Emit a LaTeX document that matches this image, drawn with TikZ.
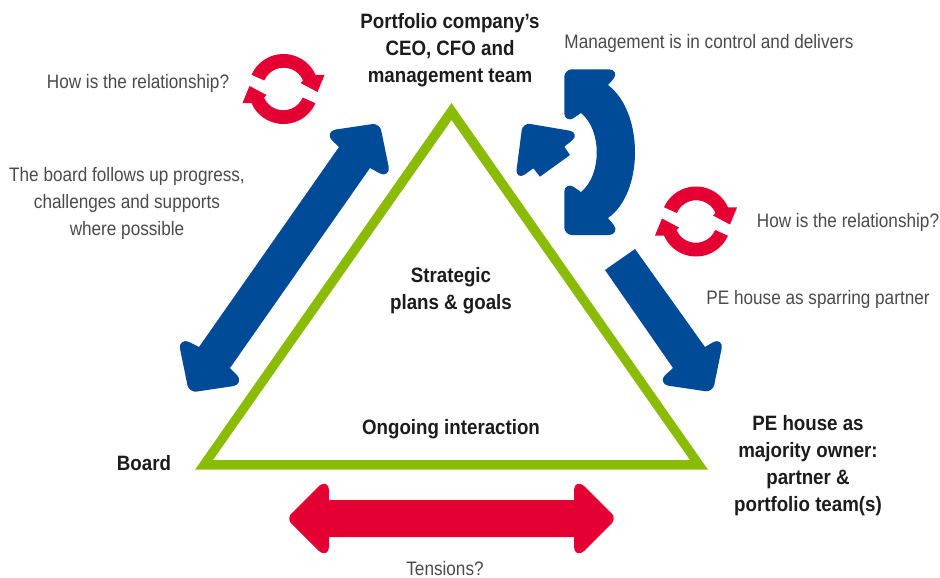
\documentclass[tikz,border=0pt]{standalone}
\usepackage{fontspec}
\usetikzlibrary{calc}
\setmainfont[FakeStretch=0.88,BoldFeatures={FakeStretch=0.90}]{Liberation Sans}
\definecolor{pgreen}{HTML}{8ABB05}
\definecolor{pblue}{HTML}{004B97}
\definecolor{pred}{HTML}{E50033}
\definecolor{ptext}{HTML}{4A4A4A}
\definecolor{pbold}{HTML}{1C1C1C}
\tikzset{
  lighttext/.style={text=ptext,font=\fontsize{19.5}{27}\selectfont,align=center,inner sep=0pt},
  boldtext/.style={text=pbold,font=\fontsize{20.8}{27}\selectfont\bfseries,align=center,inner sep=0pt},
  bluefill/.style={fill=pblue},
  redfill/.style={fill=pred}
}
\newcommand{\rnd}[4]{-- ($#3!#1pt!#2$) .. controls ($#3!#1*0.55pt!#2$) and ($#3!#1*0.55pt!#4$) .. ($#3!#1pt!#4$)}
\newcommand{\cycleicon}[2]{%
  \begin{scope}[shift={(#1,#2)},x=1pt,y=1pt,redfill]
    \foreach \r in {0,180}{
      \fill[rotate=\r] (156:35) arc[start angle=156,end angle=24,radius=35]
        -- (41,14) -- (34,-3) -- (17,6) -- (19.5,8.5)
        arc[start angle=23,end angle=157,radius=21] -- cycle;
    }
  \end{scope}}
\begin{document}
\begin{tikzpicture}[x=1pt,y=-1pt]
\useasboundingbox (0,0) rectangle (940,578);
% triangle
\fill[pgreen,even odd rule] (451.5,103) -- (708,469.7) -- (195,469.7) -- cycle
  (451.5,120) -- (213,460) -- (690,460) -- cycle;
% left double arrow
\fill[bluefill] (339,147)
  \rnd{13}{(339,147)}{(322.5,131.5)}{(379.7,123)}
  \rnd{7}{(322.5,131.5)}{(379.7,123)}{(391.3,179.7)}
  \rnd{13}{(379.7,123)}{(391.3,179.7)}{(370,168)}
  -- (370,168) -- (230,368)
  \rnd{13}{(230,368)}{(246.2,384.2)}{(189,392.7)}
  \rnd{7}{(246.2,384.2)}{(189,392.7)}{(177.4,336)}
  \rnd{13}{(189,392.7)}{(177.4,336)}{(199,347)}
  -- (199,347) -- cycle;
% right arrow
\fill[bluefill] (605,270) -- (635,249) -- (705,347)
  \rnd{13}{(705,347)}{(724.3,335.6)}{(712.7,392.3)}
  \rnd{7}{(724.3,335.6)}{(712.7,392.3)}{(655.5,383.8)}
  \rnd{13}{(712.7,392.3)}{(655.5,383.8)}{(673,368)}
  -- (673,368) -- cycle;
% red double arrow
\fill[redfill] (329,500) -- (574,500) -- (574,498)
  \rnd{14}{(574,498)}{(574,476)}{(616.5,518.5)}
  \rnd{6}{(574,476)}{(616.5,518.5)}{(574,561)}
  \rnd{14}{(616.5,518.5)}{(574,561)}{(574,537)}
  -- (574,537) -- (329,537) -- (329,539)
  \rnd{14}{(329,539)}{(329,561)}{(286.5,518.5)}
  \rnd{6}{(329,561)}{(286.5,518.5)}{(329,476)}
  \rnd{14}{(286.5,518.5)}{(329,476)}{(329,500)}
  -- cycle;
% curved arrow
\fill[bluefill] (608,85) .. controls (644,112) and (644,193) .. (608,218)
  \rnd{13}{(608,218)}{(622,235)}{(564.3,235)}
  \rnd{7}{(622,235)}{(564.3,235)}{(564.3,180.5)}
  \rnd{11}{(564.3,235)}{(564.3,180.5)}{(581,192)}
  -- (581,192)
  .. controls (602,175) and (602,130) .. (581,113)
  \rnd{11}{(581,113)}{(564.3,124.5)}{(564.3,69.3)}
  \rnd{7}{(564.3,124.5)}{(564.3,69.3)}{(622,69.3)}
  \rnd{13}{(564.3,69.3)}{(622,69.3)}{(608,85)}
  -- cycle;
% small arrow head
\fill[bluefill] (564.3,146.7)
  \rnd{12}{(564.3,146.7)}{(581.7,132.7)}{(522.7,122.7)}
  \rnd{7}{(581.7,132.7)}{(522.7,122.7)}{(515,181.7)}
  \rnd{12}{(522.7,122.7)}{(515,181.7)}{(533.3,168.3)}
  -- (533.3,168.3) -- (540,176.7) -- (570,155) -- cycle;
\cycleicon{283.5}{89}
\cycleicon{696}{221.5}
% labels
\node[boldtext] (ceo) at (450,50) {Portfolio company’s\\CEO, CFO and\\management team};
\node[boldtext] (strategic) at (451,291) {Strategic\\plans \& goals};
\node[boldtext] (ongoing) at (451,429) {Ongoing interaction};
\node[boldtext] (board) at (144,463) {Board};
\node[boldtext] (pe) at (808,466) {PE house as\\majority owner:\\partner \&\\portfolio team(s)};
\node[lighttext] (mgmt) at (709,43) {Management is in control and delivers};
\node[lighttext] (rel1) at (138,83) {How is the relationship?};
\node[lighttext] (rel2) at (848,222) {How is the relationship?};
\node[lighttext] (follow) at (127,203) {The board follows up progress,\\challenges and supports\\where possible};
\node[lighttext] (spar) at (818,299) {PE house as sparring partner};
\node[lighttext] (tens) at (445,568.5) {Tensions?};
\end{tikzpicture}
\end{document}
